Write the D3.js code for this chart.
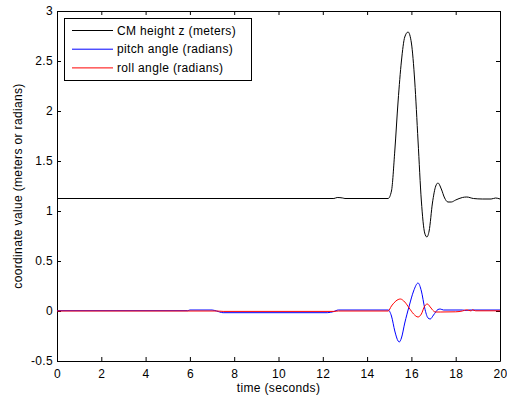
<!DOCTYPE html>
<html>
<head>
<meta charset="utf-8">
<script src="https://cdn.jsdelivr.net/npm/d3@7"></script>
<style>
  body { margin: 0; background: #fff; }
  svg text { font-family: "Liberation Sans", Arial, sans-serif; letter-spacing: 0.35px; }
</style>
</head>
<body>
<div id="chart"></div>
<script>
var heightT = [0, 12.5, 12.65, 12.9, 13.0, 14.95, 15.1, 15.25, 15.4, 15.55, 15.7, 15.85, 16.0, 16.15, 16.3, 16.45, 16.6, 16.7, 16.8, 16.95, 17.1, 17.2, 17.35, 17.5, 17.65, 17.8, 18.0, 18.3, 18.5, 18.8, 19.2, 19.6, 19.8, 20];
var heightV = [1.125, 1.125, 1.135, 1.13, 1.125, 1.125, 1.2, 1.6, 2.1, 2.5, 2.74, 2.79, 2.68, 2.3, 1.7, 1.1, 0.78, 0.74, 0.8, 1.08, 1.25, 1.28, 1.22, 1.13, 1.09, 1.09, 1.11, 1.135, 1.14, 1.125, 1.12, 1.12, 1.13, 1.12];

var pitchT = [0, 5.9, 6.0, 7.0, 7.2, 7.5, 12.2, 12.5, 12.7, 14.95, 15.1, 15.25, 15.4, 15.45, 15.55, 15.7, 15.9, 16.1, 16.3, 16.45, 16.6, 16.75, 16.85, 17.0, 17.2, 17.3, 17.45, 18.3, 18.5, 18.6, 20];
var pitchV = [0.003, 0.003, 0.01, 0.01, 0.0, -0.017, -0.017, -0.005, 0.01, 0.01, -0.05, -0.2, -0.3, -0.31, -0.27, -0.12, 0.05, 0.2, 0.28, 0.2, 0.03, -0.07, -0.08, -0.04, 0.015, 0.02, 0.01, 0.01, 0.005, 0.01, 0.01];

var rollT = [0, 7.2, 7.5, 12.5, 12.7, 14.95, 15.1, 15.3, 15.5, 15.7, 15.9, 16.1, 16.3, 16.45, 16.6, 16.72, 16.85, 17.0, 17.1, 17.3, 18.0, 18.3, 18.5, 18.7, 18.75, 18.9, 20];
var rollV = [0, 0, -0.004, -0.004, 0, 0, 0.05, 0.1, 0.12, 0.09, 0.03, -0.03, -0.06, -0.03, 0.05, 0.07, 0.04, 0.0, -0.01, -0.01, -0.008, 0, 0.012, 0, 0.012, 0.002, 0.002];

var seriesNames = ["CM height z (meters)", "pitch angle (radians)", "roll angle (radians)"];
var seriesColors = ["#000000", "#0000ff", "#ff0000"];
var xTicks = [0, 2, 4, 6, 8, 10, 12, 14, 16, 18, 20];
var yTicks = [-0.5, 0, 0.5, 1, 1.5, 2, 2.5, 3];

var w = 507, h = 400;
var margin = {left: 57, right: 7, top: 11, bottom: 39};
var iw = w - margin.left - margin.right;
var ih = h - margin.top - margin.bottom;
var fs = "12px";

var svg = d3.select("#chart").append("svg")
    .attr("width", w)
    .attr("height", h);

var g = svg.append("g")
    .attr("transform", "translate(" + margin.left + "," + margin.top + ")");

var xScale = d3.scaleLinear().domain([0, 20]).range([0, iw]);
var yScale = d3.scaleLinear().domain([-0.5, 3]).range([ih, 0]);

function styleAxis(sel) {
    sel.attr("font-family", null).attr("font-size", null);
    sel.selectAll("path").attr("stroke", "#000").attr("stroke-width", 1);
    sel.selectAll("line").attr("stroke", "#000");
    sel.selectAll("text").attr("font-size", fs).attr("fill", "#000");
}

// bottom + left with labels, top + right with ticks only
g.append("g")
    .attr("transform", "translate(0," + ih + ")")
    .call(d3.axisBottom(xScale).tickValues(xTicks).tickSizeInner(-4).tickSizeOuter(0).tickPadding(8).tickFormat(d3.format("d")))
    .call(styleAxis);

g.append("g")
    .call(d3.axisTop(xScale).tickValues(xTicks).tickSizeInner(-4).tickSizeOuter(0).tickFormat(""))
    .call(styleAxis);

g.append("g")
    .call(d3.axisLeft(yScale).tickValues(yTicks).tickSizeInner(-4).tickSizeOuter(0).tickPadding(4).tickFormat(function(d) { return d; }))
    .call(styleAxis);

g.append("g")
    .attr("transform", "translate(" + iw + ",0)")
    .call(d3.axisRight(yScale).tickValues(yTicks).tickSizeInner(-4).tickSizeOuter(0).tickFormat(""))
    .call(styleAxis);

// lines
var line = d3.line()
    .x(function(d) { return xScale(d[0]); })
    .y(function(d) { return yScale(d[1]); })
    .curve(d3.curveMonotoneX);

var series = [
    d3.zip(heightT, heightV),
    d3.zip(pitchT, pitchV),
    d3.zip(rollT, rollV)
];

series.forEach(function(s, i) {
    g.append("path")
        .datum(s)
        .attr("fill", "none")
        .attr("stroke", seriesColors[i])
        .attr("stroke-width", 1)
        .attr("d", line);
});

// legend
var legend = g.append("g").attr("transform", "translate(7,7)");
legend.append("rect")
    .attr("x", 0.5).attr("y", 0.5)
    .attr("width", 187).attr("height", 62)
    .attr("fill", "#fff")
    .attr("stroke", "#000");

seriesNames.forEach(function(name, i) {
    var yy = 12.5 + i * 18.7;
    legend.append("line")
        .attr("x1", 8).attr("x2", 49)
        .attr("y1", yy).attr("y2", yy)
        .attr("stroke", seriesColors[i]);
    legend.append("text")
        .attr("x", 53).attr("y", yy)
        .attr("dy", "0.35em")
        .attr("font-size", fs)
        .text(name);
});

// axis titles
svg.append("text")
    .attr("x", margin.left + iw / 2)
    .attr("y", 392)
    .attr("text-anchor", "middle")
    .attr("font-size", fs)
    .text("time (seconds)");

svg.append("text")
    .attr("transform", "translate(21.5," + (margin.top + ih / 2) + ") rotate(-90)")
    .attr("text-anchor", "middle")
    .attr("font-size", fs)
    .text("coordinate value (meters or radians)");
</script>
</body>
</html>
